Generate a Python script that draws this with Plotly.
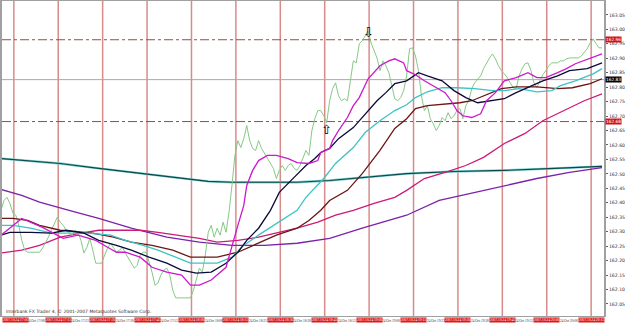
import plotly.graph_objects as go

# ---------------- data (bar index, price) ----------------
price_bars = list(range(0, 204))
price_close = [
    162.374, 162.408, 162.419, 162.398, 162.364, 162.357, 162.322, 162.270, 162.236, 162.229,
    162.229, 162.229, 162.229, 162.229, 162.243, 162.260, 162.281, 162.305, 162.329, 162.350,
    162.333, 162.322, 162.305, 162.295, 162.288, 162.305, 162.298, 162.270, 162.226, 162.246,
    162.277, 162.236, 162.191, 162.191, 162.191, 162.219, 162.243, 162.260, 162.246, 162.229,
    162.236, 162.246, 162.226, 162.209, 162.195, 162.174, 162.184, 162.219, 162.229, 162.229,
    162.195, 162.160, 162.115, 162.122, 162.150, 162.167, 162.174, 162.150, 162.098, 162.071,
    162.071, 162.071, 162.071, 162.071, 162.071, 162.098, 162.139, 162.174, 162.160, 162.219,
    162.298, 162.322, 162.281, 162.312, 162.288, 162.333, 162.298, 162.367, 162.460, 162.564,
    162.615, 162.591, 162.622, 162.667, 162.615, 162.588, 162.581, 162.615, 162.588, 162.570,
    162.553, 162.539, 162.519, 162.484, 162.512, 162.529, 162.512, 162.529, 162.536, 162.519,
    162.512, 162.529, 162.553, 162.581, 162.564, 162.650, 162.691, 162.719, 162.719, 162.701,
    162.677, 162.753, 162.795, 162.815, 162.770, 162.753, 162.760, 162.753, 162.822, 162.891,
    162.884, 162.950, 162.960, 162.977, 162.995, 162.953, 162.926, 162.901, 162.857, 162.891,
    162.874, 162.850, 162.805, 162.760, 162.753, 162.764, 162.788, 162.839, 162.933, 162.936,
    162.908, 162.857, 162.770, 162.719, 162.736, 162.691, 162.674, 162.650, 162.667, 162.695,
    162.684, 162.712, 162.691, 162.701, 162.719, 162.726, 162.691, 162.736, 162.753, 162.795,
    162.815, 162.829, 162.839, 162.864, 162.884, 162.901, 162.915, 162.898, 162.874, 162.857,
    162.846, 162.833, 162.815, 162.798, 162.795, 162.839, 162.864, 162.881, 162.884, 162.857,
    162.815, 162.798, 162.822, 162.843, 162.857, 162.874, 162.884, 162.884, 162.884, 162.891,
    162.891, 162.898, 162.901, 162.901, 162.901, 162.901, 162.908, 162.919, 162.933, 162.953,
    162.967, 162.950, 162.936, 162.936,
]

ma_magenta_x = [0, 7, 14, 19, 21, 26, 32, 36, 39, 42, 47, 51, 56, 61, 64, 67, 71, 76, 78, 80,
                82, 83, 85, 87, 90, 93, 97, 100, 104, 107, 108, 111, 112, 114, 117, 119, 121, 124,
                128, 131, 133, 136, 137, 140, 143, 147, 150, 152, 154, 156, 159, 162, 164, 167,
                170, 174, 178, 181, 184, 188, 191, 194, 199, 203]
ma_magenta = [162.288, 162.346, 162.315, 162.288, 162.277, 162.288, 162.270, 162.246, 162.229,
              162.229, 162.212, 162.177, 162.160, 162.150, 162.115, 162.115, 162.133, 162.177,
              162.253, 162.322, 162.391, 162.460, 162.512, 162.546, 162.564, 162.564, 162.553,
              162.539, 162.536, 162.546, 162.574, 162.588, 162.615, 162.650, 162.695, 162.736,
              162.764, 162.829, 162.874, 162.891, 162.898, 162.884, 162.857, 162.843, 162.822,
              162.798, 162.781, 162.753, 162.719, 162.701, 162.695, 162.708, 162.753, 162.781,
              162.822, 162.833, 162.850, 162.833, 162.833, 162.850, 162.864, 162.881, 162.901,
              162.915]

ma_black_x = [0, 3, 10, 17, 22, 28, 33, 39, 44, 50, 56, 61, 66, 71, 76, 80, 83, 87, 91, 94, 99,
              103, 106, 108, 111, 114, 119, 123, 127, 130, 133, 137, 141, 144, 149, 153, 157, 161,
              166, 170, 174, 179, 183, 188, 192, 198, 203]
ma_black = [162.288, 162.298, 162.298, 162.295, 162.305, 162.295, 162.270, 162.253, 162.236,
            162.212, 162.191, 162.167, 162.157, 162.160, 162.191, 162.229, 162.270, 162.312,
            162.374, 162.436, 162.488, 162.529, 162.553, 162.574, 162.588, 162.622, 162.660,
            162.708, 162.753, 162.781, 162.812, 162.822, 162.850, 162.839, 162.822, 162.788,
            162.764, 162.746, 162.753, 162.760, 162.781, 162.805, 162.822, 162.839, 162.857,
            162.864, 162.884]

ma_cyan_x = [0, 4, 10, 17, 22, 29, 37, 42, 48, 53, 59, 64, 70, 73, 78, 82, 88, 93, 100, 103,
             109, 113, 119, 123, 128, 133, 137, 140, 144, 149, 154, 160, 166, 170, 175, 181, 186,
             189, 194, 200, 203]
ma_cyan = [162.322, 162.322, 162.312, 162.295, 162.295, 162.295, 162.288, 162.270, 162.253,
           162.236, 162.212, 162.191, 162.191, 162.191, 162.212, 162.253, 162.295, 162.329,
           162.374, 162.419, 162.484, 162.536, 162.591, 162.643, 162.684, 162.719, 162.739,
           162.764, 162.784, 162.798, 162.798, 162.795, 162.788, 162.788, 162.795, 162.784,
           162.788, 162.805, 162.822, 162.846, 162.864]

ma_brown_x = [0, 4, 9, 13, 20, 27, 31, 38, 44, 51, 58, 64, 70, 73, 80, 87, 93, 100, 104, 108,
              111, 117, 122, 128, 133, 137, 140, 144, 151, 155, 159, 163, 169, 174, 181, 188, 193,
              199, 203]
ma_brown = [162.346, 162.346, 162.339, 162.322, 162.305, 162.298, 162.295, 162.281, 162.264,
            162.253, 162.236, 162.212, 162.212, 162.212, 162.229, 162.260, 162.288, 162.312,
            162.339, 162.374, 162.408, 162.443, 162.501, 162.581, 162.657, 162.691, 162.726,
            162.736, 162.743, 162.746, 162.753, 162.770, 162.795, 162.801, 162.801, 162.795,
            162.798, 162.812, 162.829]

ma_pink_x = [0, 7, 13, 20, 27, 33, 40, 47, 53, 60, 67, 73, 80, 87, 93, 100, 107, 113, 119, 126,
             133, 137, 143, 150, 157, 163, 170, 177, 183, 190, 197, 203]
ma_pink = [162.226, 162.236, 162.253, 162.281, 162.295, 162.305, 162.305, 162.305, 162.298,
           162.288, 162.277, 162.264, 162.270, 162.281, 162.295, 162.312, 162.333, 162.357,
           162.374, 162.398, 162.419, 162.443, 162.484, 162.505, 162.529, 162.557, 162.605,
           162.640, 162.684, 162.719, 162.753, 162.777]

ma_teal_x = [0, 20, 33, 50, 70, 78, 89, 100, 111, 122, 137, 153, 170, 187, 203]
ma_teal = [162.553, 162.536, 162.519, 162.498, 162.474, 162.471, 162.471, 162.471, 162.477,
           162.488, 162.501, 162.508, 162.512, 162.519, 162.526]

ma_purple_x = [0, 7, 13, 20, 23, 33, 44, 56, 67, 78, 89, 100, 111, 122, 137, 148, 159, 170, 181,
               192, 203]
ma_purple = [162.446, 162.426, 162.402, 162.384, 162.374, 162.346, 162.312, 162.281, 162.264,
             162.253, 162.253, 162.260, 162.277, 162.312, 162.357, 162.408, 162.433, 162.460,
             162.484, 162.505, 162.522]

# levels
level_high = 162.964
level_low = 162.681
bid_level = 162.826
level_high_label = "162.96"
level_low_label = "162.68"
bid_label = "162.83"

# price axis ticks
y_ticks = [162.05 + 0.05 * i for i in range(21)]

# period separators (bar positions) and their labels
sep_bars = [4.33 + 15 * k for k in range(14)]
sep_labels = ["2007.10.24 %02d:%02d" % (17 + (15 * k) // 60, (15 * k) % 60) for k in range(14)]
time_tick_bars = [11.8 + 15 * k for k in range(13)]
time_tick_labels = ["24 Oct %02d:%02d" % (17 + (8 + 15 * k) // 60, (8 + 15 * k) % 60) for k in range(13)]

# signal arrows
arrow_down_bar, arrow_down_price = 124, 162.988
arrow_up_bar, arrow_up_price = 110, 162.655

copyright_text = "Interbank FX Trader 4, © 2001-2007 MetaQuotes Software Corp."

# ---------------- figure ----------------
fig = go.Figure()

def line(x, y, color, width=1.2):
    fig.add_trace(go.Scatter(x=x, y=y, mode="lines", line=dict(color=color, width=width),
                             hoverinfo="skip", showlegend=False))

line(ma_teal_x, ma_teal, "#7fcfcf", 2.4)
line(ma_teal_x, ma_teal, "#0b4a4a", 1.1)
line(ma_purple_x, ma_purple, "#7a22a8", 1.3)
line(ma_pink_x, ma_pink, "#cc1a78", 1.3)
line(price_bars, price_close, "#86c986", 1.0)
line(ma_brown_x, ma_brown, "#6a1616", 1.3)
line(ma_cyan_x, ma_cyan, "#3cc3c3", 1.3)
line(ma_black_x, ma_black, "#0a0a3a", 1.3)
line(ma_magenta_x, ma_magenta, "#cc18cc", 1.3)

shapes = []
for b in sep_bars:
    shapes.append(dict(type="line", xref="x", yref="paper", x0=b, x1=b, y0=0, y1=1,
                       line=dict(color="rgba(200,90,90,0.7)", width=1.5), layer="below"))
for lv in (level_high, level_low):
    shapes.append(dict(type="line", xref="paper", yref="y", x0=0, x1=1, y0=lv, y1=lv,
                       line=dict(color="#a04848", width=1, dash="dashdot"), layer="below"))
shapes.append(dict(type="line", xref="paper", yref="y", x0=0, x1=1, y0=bid_level, y1=bid_level,
                   line=dict(color="#a8a8a8", width=1), layer="below"))

ann = []
for lv, txt, bg in ((level_high, level_high_label, "#d01010"),
                    (level_low, level_low_label, "#d01010"),
                    (bid_level, bid_label, "#000000")):
    ann.append(dict(xref="paper", yref="y", x=1.0, y=lv, text=txt, showarrow=False,
                    xanchor="left", yanchor="middle", xshift=1, bgcolor=bg,
                    font=dict(size=4.3, color="white", family="DejaVu Sans"), borderpad=0))
for i, (b, txt) in enumerate(zip(sep_bars, sep_labels)):
    ann.append(dict(xref="x", yref="paper", x=(0.33 if i == 0 else b), y=0, yshift=-1, text=txt,
                    showarrow=False, xanchor=("left" if i == 0 else "center"), yanchor="top",
                    bgcolor="#e01818", borderpad=0,
                    font=dict(size=3.6, color="white", family="Liberation Sans Narrow")))
for b, txt in zip(time_tick_bars, time_tick_labels):
    ann.append(dict(xref="x", yref="paper", x=b, y=0, yshift=-1, text=txt, showarrow=False,
                    xanchor="center", yanchor="top",
                    font=dict(size=3.4, color="#333333", family="Liberation Sans Narrow")))
ann.append(dict(xref="x", yref="y", x=arrow_down_bar, y=arrow_down_price, text="⇩", showarrow=False,
                font=dict(size=13, color="#000000", family="DejaVu Sans")))
ann.append(dict(xref="x", yref="y", x=arrow_up_bar, y=arrow_up_price, text="⇧", showarrow=False,
                font=dict(size=13, color="#000000", family="DejaVu Sans")))
ann.append(dict(xref="paper", yref="paper", x=0.003, y=0.0, text=copyright_text, showarrow=False,
                xanchor="left", yanchor="bottom", yshift=0,
                font=dict(size=4.5, color="#303030", family="DejaVu Sans")))

fig.update_layout(
    width=625, height=325,
    margin=dict(l=1, r=14, t=0, b=9),
    paper_bgcolor="white", plot_bgcolor="white",
    shapes=shapes, annotations=ann,
    xaxis=dict(range=[0.33, 203.67], showgrid=False, zeroline=False,
               showticklabels=False, ticks="",
               showline=True, linecolor="#a0a0a0", linewidth=1, mirror=True),
    yaxis=dict(range=[162.0084, 163.098], side="right", showgrid=False, zeroline=False,
               tickvals=y_ticks, ticktext=["%.2f" % v for v in y_ticks],
               ticks="outside", ticklen=2, tickcolor="#606060",
               tickfont=dict(size=4.6, color="#333333", family="DejaVu Sans"),
               showline=True, linecolor="#a0a0a0", linewidth=2, mirror=True),
)

fig.write_html("out.html")
